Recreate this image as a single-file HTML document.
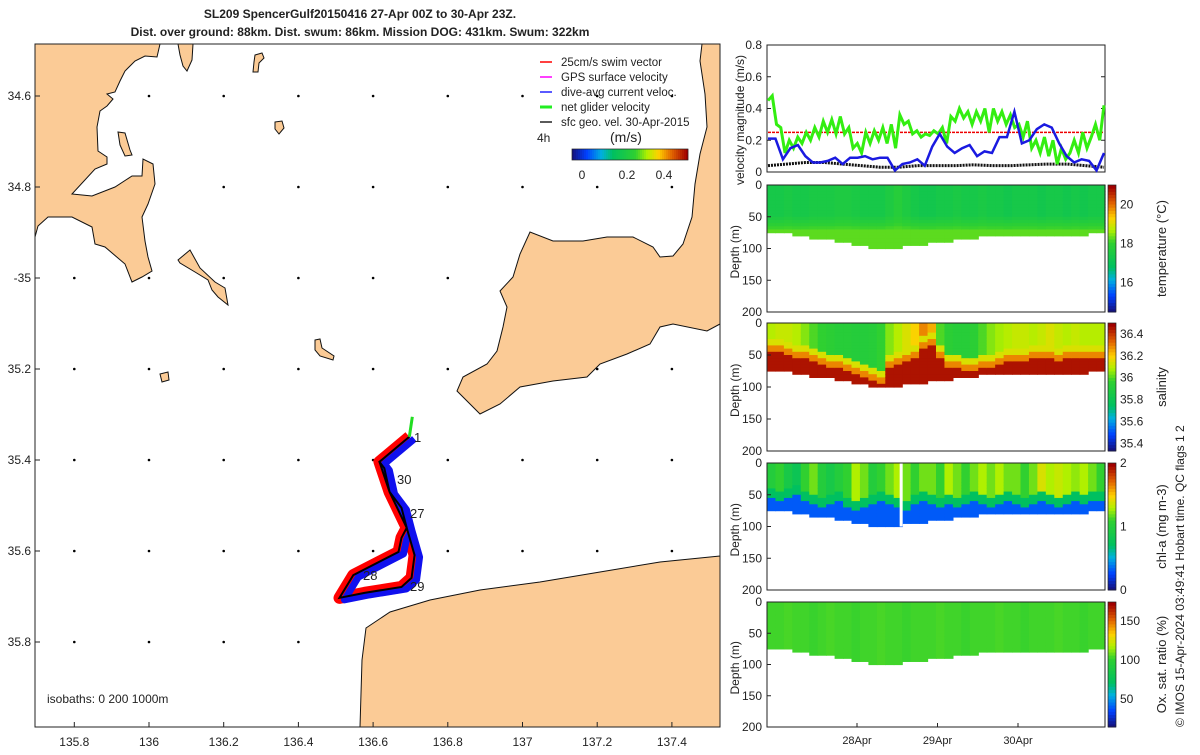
<!DOCTYPE html>
<html><head><meta charset="utf-8"><style>
body{margin:0;background:#fff;font-family:"Liberation Sans",sans-serif}
svg text{font-family:"Liberation Sans",sans-serif;fill:#222}
</style></head><body>
<svg id="s" width="1200" height="750" xmlns="http://www.w3.org/2000/svg">
<text x="360" y="18" font-size="12" font-weight="bold" text-anchor="middle">SL209 SpencerGulf20150416 27-Apr 00Z to 30-Apr 23Z.</text>
<text x="360" y="36" font-size="12" font-weight="bold" text-anchor="middle">Dist. over ground: 88km. Dist. swum: 86km. Mission DOG: 431km. Swum: 322km</text>
<g id="map"></g>
<g id="right"></g>
<text transform="translate(1184,727) rotate(-90)" font-size="12">© IMOS 15-Apr-2024 03:49:41 Hobart time. QC flags 1  2</text>
</svg>
<script>
const NS='http://www.w3.org/2000/svg';
const svg=document.getElementById('s');
function mk(t,a,p){const e=document.createElementNS(NS,t);for(const k in a)e.setAttribute(k,a[k]);(p||svg).appendChild(e);return e;}
// ---------- data ----------
const lonTicks=[135.8,136,136.2,136.4,136.6,136.8,137,137.2,137.4];
const latTicks=[34.6,34.8,35,35.2,35.4,35.6,35.8];
const latLabels=['34.6','34.8','-35','35.2','35.4','35.6','35.8'];
const trackLon=[136.697,136.617,136.630,136.644,136.676,136.690,136.676,136.668,136.547,136.510,136.577,136.676,136.703,136.711,136.690,136.644,136.617,136.697];
const trackLat=[35.349,35.404,35.418,35.470,35.505,35.549,35.571,35.602,35.653,35.703,35.692,35.679,35.659,35.609,35.549,35.470,35.404,35.349];
const dayLabels=['28Apr','29Apr','30Apr'];
const dayTicks=[1,2,3];
const greenV=[0.45,0.48,0.3,0.28,0.12,0.2,0.15,0.22,0.18,0.25,0.2,0.28,0.22,0.32,0.25,0.33,0.24,0.35,0.24,0.28,0.15,0.18,0.12,0.25,0.18,0.26,0.2,0.28,0.18,0.3,0.15,0.36,0.3,0.32,0.24,0.26,0.22,0.24,0.23,0.26,0.24,0.28,0.18,0.35,0.32,0.4,0.34,0.38,0.3,0.38,0.32,0.4,0.25,0.4,0.32,0.38,0.3,0.36,0.28,0.3,0.22,0.32,0.15,0.2,0.12,0.22,0.1,0.2,0.05,0.15,0.08,0.12,0.2,0.12,0.25,0.15,0.22,0.3,0.2,0.42];
const blueV=[0.21,0.21,0.08,0.15,0.17,0.1,0.06,0.06,0.07,0.09,0.05,0.09,0.09,0.1,0.08,0.09,0.09,0.01,0.05,0.06,0.08,0.04,0.16,0.24,0.16,0.12,0.15,0.17,0.1,0.13,0.12,0.22,0.22,0.38,0.18,0.2,0.27,0.3,0.28,0.18,0.1,0.06,0.08,0.07,0.01,0.12];
const blackV=[0.04,0.05,0.06,0.06,0.05,0.04,0.03,0.03,0.04,0.04,0.04,0.045,0.04,0.04,0.045,0.05,0.05,0.04,0.03];
const redV=[0.25,0.25];
// 40 columns across the time axis
const bottomDepth=[75,75,75,77,79,81,83,85,87,89,91,94,97,100,98,96,94,93,91,89,87,86,84,82,81,80,79,78,78,79,80,80,79,78,77,77,76,76,75,75];
const salSurf=[36.1,36.12,36.12,36.1,36.05,36.0,35.97,35.95,35.93,35.93,35.92,35.92,35.93,35.97,36.05,36.1,36.15,36.2,36.3,36.25,36.0,35.95,35.93,35.93,35.95,36.0,36.05,36.08,36.1,36.12,36.12,36.1,36.12,36.15,36.12,36.1,36.12,36.1,36.1,36.1];
const salMix=[45,45,48,52,55,58,62,66,70,74,78,84,88,92,70,62,60,55,40,35,55,68,70,72,72,70,66,62,60,60,58,55,55,55,56,55,55,55,55,55];
const tempSurf=[17.4,17.4,17.5,17.4,17.4,17.5,17.5,17.5,17.6,17.6,17.5,17.4,17.4,17.4,17.6,17.8,17.6,17.4,17.3,17.3,17.4,17.4,17.5,17.4,17.4,17.5,17.4,17.4,17.3,17.4,17.4,17.4,17.3,17.4,17.4,17.3,17.4,17.3,17.4,17.4];
const tempDeep=18.3;
const chlSurf=[1.0,1.1,0.9,0.8,1.1,1.2,1.0,0.9,1.0,1.1,1.3,1.2,1.0,1.1,1.2,1.3,1.2,1.1,1.2,1.2,1.1,1.3,1.2,1.1,1.2,1.3,1.2,1.3,1.2,1.2,1.1,1.2,1.4,1.3,1.35,1.3,1.25,1.3,1.2,1.1];
const chlMix=[40,45,40,35,45,50,55,50,45,55,60,55,50,45,50,55,60,50,45,50,55,50,55,50,45,50,55,50,45,50,55,50,45,50,55,50,45,50,45,45];
const chlDeep=0.3;
const oxyVal=[104,104,105,104,104,103,104,105,104,104,103,104,104,105,104,104,103,104,104,104,105,104,104,103,104,104,104,105,104,104,103,104,104,104,105,104,104,103,104,104];
// ---------- colormap ----------
const cm=[[0,[20,20,130]],[0.12,[0,64,255]],[0.25,[0,176,224]],[0.35,[0,192,96]],[0.55,[48,208,48]],[0.65,[176,240,0]],[0.75,[255,208,0]],[0.87,[224,96,0]],[1,[160,0,0]]];
function col(f){f=Math.max(0,Math.min(1,f));for(let i=1;i<cm.length;i++){if(f<=cm[i][0]){const a=cm[i-1],b=cm[i],u=(f-a[0])/(b[0]-a[0]);return 'rgb('+a[1].map((v,k)=>Math.round(v+(b[1][k]-v)*u)).join(',')+')';}}return 'rgb(160,0,0)';}
// ---------- map ----------
const M=document.getElementById('map');
const lx=l=>149+(l-136)*373.5, ly=l=>278+(l-35)*455;
const mapL=35,mapT=44,mapR=720,mapB=727;
mk('rect',{x:mapL,y:mapT,width:mapR-mapL,height:mapB-mapT,fill:'#fff'},M);
const cp=mk('clipPath',{id:'mc'},M);mk('rect',{x:mapL,y:mapT,width:mapR-mapL,height:mapB-mapT},cp);
const mg=mk('g',{'clip-path':'url(#mc)'},M);
latTicks.forEach(a=>lonTicks.forEach(o=>{const d=mk('circle',{cx:lx(o),cy:ly(a),r:1.3,fill:'#000'},mg);}));
const land=[
 "M35,44 L160,44 L157,57 L145,56 L135,61 L125,71 L120,81 L115,92 L107,94 L113,99 L107,106 L100,111 L97,127 L98,151 L107,157 L107,164 L95,169 L72,194 L92,196 L115,187 L132,176 L142,176 L143,159 L153,164 L155,184 L148,204 L142,217 L145,241 L148,257 L152,271 L142,277 L132,282 L125,264 L105,247 L95,244 L92,227 L72,217 L48,217 L38,226 L35,237 Z",
 "M702,44 L700,61 L705,94 L707,127 L700,154 L695,184 L692,217 L683,244 L673,256 L660,257 L653,247 L633,237 L607,237 L583,241 L553,241 L530,232 L520,254 L513,277 L500,291 L507,307 L503,327 L497,351 L487,364 L463,377 L457,391 L467,401 L480,414 L500,404 L520,387 L553,381 L587,377 L600,364 L627,354 L650,344 L660,327 L673,324 L707,331 L720,324 L720,44 Z",
 "M360,727 L362,660 L366,628 L390,612 L430,600 L480,590 L540,582 L600,572 L660,562 L720,556 L720,727 Z",
 "M178,44 L193,44 L192,60 L187,71 L183,66 L180,55 Z",
 "M118,132 L125,133 L130,150 L132,155 L125,156 L120,145 Z",
 "M178,260 L190,250 L200,268 L215,282 L225,288 L228,305 L218,297 L212,290 L208,280 L195,272 L180,263 Z",
 "M275,122 L282,121 L284,128 L279,134 L275,129 Z",
 "M315,340 L320,339 L322,348 L334,356 L333,360 L320,356 L315,350 Z",
 "M255,55 L262,53 L264,58 L259,63 L258,72 L253,72 L254,62 Z",
 "M160,374 L168,372 L169,380 L162,382 Z"];
land.forEach((d,i)=>{const p=mk('path',{d:d,fill:'#fbcb96',stroke:'#111','stroke-width':1},mg);});
// track
const tp=trackLon.map((o,i)=>[lx(o),ly(trackLat[i])]);
const ptsStr=tp.map(p=>p.join(',')).join(' ');
let e=mk('polyline',{points:ptsStr,fill:'none',stroke:'#f00','stroke-width':12,'stroke-linejoin':'round'},mg);
e=mk('polyline',{points:ptsStr,fill:'none',stroke:'#1010ee','stroke-width':7,'stroke-linejoin':'round',transform:'translate(5,2)'},mg);
e=mk('polyline',{points:ptsStr,fill:'none',stroke:'#000','stroke-width':2},mg);
mk('path',{d:`M${tp[0][0]},${tp[0][1]} L${tp[0][0]+3},${tp[0][1]-20}`,stroke:'#22dd22','stroke-width':3},mg);
[['1',414,442],['30',397,484],['27',410,518],['28',363,580],['29',410,591]].forEach(t=>{const x=mk('text',{x:t[1],y:t[2],'font-size':13,fill:'#111'},mg);x.textContent=t[0];});
mk('rect',{x:mapL,y:mapT,width:mapR-mapL,height:mapB-mapT,fill:'none',stroke:'#222'},M);
lonTicks.forEach(o=>{mk('line',{x1:lx(o),x2:lx(o),y1:mapB,y2:mapB-5,stroke:'#222'},M);const t=mk('text',{x:lx(o),y:746,'font-size':12,'text-anchor':'middle'},M);t.textContent=o;});
latTicks.forEach((a,i)=>{mk('line',{x1:mapL,x2:mapL+5,y1:ly(a),y2:ly(a),stroke:'#222'},M);const t=mk('text',{x:31,y:ly(a)+4,'font-size':12,'text-anchor':'end'},M);t.textContent=latLabels[i];});
let t=mk('text',{x:47,y:703,'font-size':12},M);t.textContent='isobaths: 0   200   1000m';
// legend
const leg=[['#f00','25cm/s swim vector'],['#f0f','GPS surface velocity'],['#22f','dive-avg current veloc.'],['#2e2','net glider velocity'],['#222','sfc geo. vel. 30-Apr-2015']];
leg.forEach((l,i)=>{const y=62+i*15;const g=mk('g',{},M);mk('line',{x1:540,x2:552,y1:y,y2:y,stroke:l[0],'stroke-width':i==3?3:1.5},g);const x=mk('text',{x:561,y:y+4,'font-size':11.5},g);x.textContent=l[1];});
t=mk('text',{x:537,y:142,'font-size':12});M.appendChild(t);t.textContent='4h';
t=mk('text',{x:610,y:142,'font-size':14});M.appendChild(t);t.textContent='(m/s)';
for(let i=0;i<58;i++)mk('rect',{x:572+i*2,y:149,width:2.2,height:11,fill:col(i/57)},M);
mk('rect',{x:572,y:149,width:116,height:11,fill:'none',stroke:'#222','stroke-width':0.7},M);
[['0',582],['0.2',627],['0.4',664]].forEach(a=>{const x=mk('text',{x:a[1],y:179,'font-size':12,'text-anchor':'middle'},M);x.textContent=a[0];});
// ---------- right panels ----------
const R=document.getElementById('right');
const pL=767,pR=1105;
const tx=d=>776.5+d*80.5;
const vT=45,vB=172, vy=v=>vB-v*(vB-vT)/0.8;
mk('rect',{x:pL,y:vT,width:pR-pL,height:vB-vT,fill:'#fff',stroke:'#222'},R);
[0,0.2,0.4,0.6,0.8].forEach(v=>{mk('line',{x1:pL,x2:pL+4,y1:vy(v),y2:vy(v),stroke:'#222'},R);mk('line',{x1:pR,x2:pR-4,y1:vy(v),y2:vy(v),stroke:'#222'},R);const x=mk('text',{x:762,y:vy(v)+4,'font-size':12,'text-anchor':'end'},R);x.textContent=v;});
function series(arr,color,w,name,dash){const n=arr.length;const pts=arr.map((v,i)=>[pL+1+i*(pR-pL-2)/(n-1),vy(v)].join(',')).join(' ');const p=mk('polyline',{points:pts,fill:'none',stroke:color,'stroke-width':w},R);if(dash)p.setAttribute('stroke-dasharray',dash);}
series(redV,'#e00',1.5,'swim-speed-line','3,1');
series(blackV,'#111',3,'surface-geo-velocity-line','2,1');
series(greenV,'#33ee11',3,'net-glider-velocity-line');
series(blueV,'#1a1ae0',2.5,'dive-avg-current-line');
t=mk('text',{transform:'translate(744,185) rotate(-90)','font-size':12},R);t.textContent='velocity magnitude (m/s)';
const panels=[
 {T:185,B:312,name:'temperature',label:'temperature (°C)',lo:14.5,hi:21,ticks:[16,18,20],tl:['16','18','20']},
 {T:323,B:451,name:'salinity',label:'salinity',lo:35.33,hi:36.5,ticks:[35.4,35.6,35.8,36,36.2,36.4],tl:['35.4','35.6','35.8','36','36.2','36.4']},
 {T:463,B:590,name:'chlorophyll',label:'chl-a (mg m-3)',lo:0,hi:2,ticks:[0,1,2],tl:['0','1','2']},
 {T:602,B:727,name:'oxygen',label:'Ox. sat. ratio (%)',lo:14,hi:174,ticks:[50,100,150],tl:['50','100','150']}];
const nC=bottomDepth.length, cw=(pR-pL)/nC;
panels.forEach((P,pi)=>{
 const g=mk('g',{},R);
 const dy=d=>P.T+d*(P.B-P.T)/200;
 mk('rect',{x:pL,y:P.T,width:pR-pL,height:P.B-P.T,fill:'#fff'},g);
 for(let c=0;c<nC;c++){
  const bd=bottomDepth[c];
  for(let d=0;d<bd;d+=5){
   let v;
   if(pi==0){v=d<45?tempSurf[c]:tempSurf[c]+(tempDeep-tempSurf[c])*Math.min(1,(d-45)/25);}
   else if(pi==1){const m=salMix[c];v=d<m-20?salSurf[c]:(d<m-10?36.15:(d<m?36.3:36.47));}
   else if(pi==2){v=d<chlMix[c]?chlSurf[c]:(d<chlMix[c]+12?0.7:chlDeep);}
   else v=oxyVal[c];
   mk('rect',{x:pL+c*cw,y:dy(d),width:cw+0.6,height:dy(5)-dy(0)+0.6,fill:col((v-P.lo)/(P.hi-P.lo))},g);
  }
 }
 if(pi==2)mk('rect',{x:tx(1.53),y:P.T,width:3,height:dy(100)-P.T,fill:'#fff'},g);
 mk('rect',{x:pL,y:P.T,width:pR-pL,height:P.B-P.T,fill:'none',stroke:'#222'},g);
 [0,50,100,150,200].forEach(d=>{mk('line',{x1:pL,x2:pL+4,y1:dy(d),y2:dy(d),stroke:'#222'},g);const x=mk('text',{x:762,y:dy(d)+4,'font-size':12,'text-anchor':'end'},g);x.textContent=d;});
 const x=mk('text',{transform:`translate(739,${(P.T+P.B)/2+30}) rotate(-90)`,'font-size':12},g);x.textContent='Depth (m)';
 for(let i=0;i<40;i++)mk('rect',{x:1108,y:P.B-(i+1)*(P.B-P.T)/40,width:8,height:(P.B-P.T)/40+0.5,fill:col(i/39)},g);
 mk('rect',{x:1108,y:P.T,width:8,height:P.B-P.T,fill:'none',stroke:'#222','stroke-width':0.7},g);
 P.ticks.forEach((v,i)=>{const y=P.B-(v-P.lo)/(P.hi-P.lo)*(P.B-P.T);const q=mk('text',{x:1120,y:y+4,'font-size':12},g);q.textContent=P.tl[i];});
 const lb=mk('text',{transform:`translate(1166,${(P.T+P.B)/2}) rotate(-90)`,'font-size':13,'text-anchor':'middle'},g);lb.textContent=P.label;
});
dayTicks.forEach((d,i)=>{mk('line',{x1:tx(d),x2:tx(d),y1:727,y2:723,stroke:'#222'},R);const x=mk('text',{x:tx(d),y:744,'font-size':11,'text-anchor':'middle'},R);x.textContent=dayLabels[i];});
</script>
</body></html>
